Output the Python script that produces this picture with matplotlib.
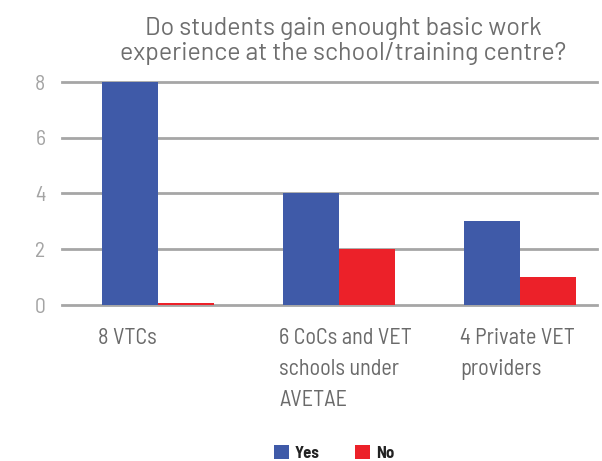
import matplotlib
matplotlib.use("Agg")
import matplotlib.pyplot as plt
import numpy as np

plt.rcParams['font.family'] = ['Barlow Semi Condensed', 'DejaVu Sans']

title_lines = ['Do students gain enought basic work',
               'experience at the school/training centre?']
categories = ['8 VTCs', '6 CoCs and VET\nschools under\nAVETAE', '4 Private VET\nproviders']
yes_vals = [8, 4, 3]
no_vals = [0.07, 2, 1]
series_names = ['Yes', 'No']
yticks = [0, 2, 4, 6, 8]

BLUE = '#3f5aa8'
RED = '#ec2129'
GRID = '#a6a6a6'
W, H = 602, 461

fig = plt.figure(figsize=(W / 100, H / 100), dpi=100)
ax = fig.add_axes([62 / W, 1 - 305 / H, 535 / W, 223 / H])

x = np.arange(len(categories))
w = 0.309
ax.bar(x - w / 2, yes_vals, w, color=BLUE, label=series_names[0], zorder=3)
ax.bar(x + w / 2, no_vals, w, color=RED, label=series_names[1], zorder=3)

ax.set_xlim(-0.53, 2.426)
ax.set_ylim(0, 8)
ax.set_yticks(yticks)
for t in yticks:
    ax.axhline(t, color=GRID, lw=2, zorder=1, clip_on=False)
ax.tick_params(axis='y', length=0, pad=12, labelsize=15.5, labelcolor='#a4a4a4')
ax.set_xticks([])
for s in ax.spines.values():
    s.set_visible(False)

# category labels start just left of each group's first bar
for xi, name in zip(x, categories):
    px = ax.transData.transform((xi - w, 0))[0] - 4
    fig.text(px / W, 1 - 328 / H, name, ha='left', va='top', fontsize=16,
             color='#6a6a6a', linespacing=1.63)

for yb, line in zip([35, 60], title_lines):
    fig.text(343 / W, 1 - yb / H, line, ha='center', va='baseline',
             fontsize=18, color='#6e6e6e', family=['Barlow', 'DejaVu Sans'])

leg = fig.legend(loc='center', bbox_to_anchor=(334 / W, 1 - 453 / H), ncol=2,
                 frameon=False, handlelength=0.9, handleheight=0.9, columnspacing=2.1,
                 handletextpad=0.36, borderaxespad=0, borderpad=0,
                 prop={'size': 12, 'weight': 'bold'})
for t in leg.get_texts():
    t.set_color('#222222')

fig.savefig('out.png', dpi=100)
